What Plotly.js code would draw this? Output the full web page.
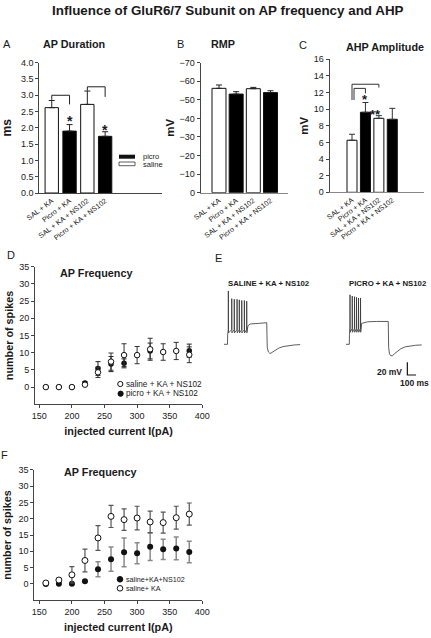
<!DOCTYPE html>
<html>
<head>
<meta charset="utf-8">
<script src="https://cdn.plot.ly/plotly-3.0.1.min.js"></script>
<style>html,body{margin:0;padding:0;background:#fff;}#chart{width:431px;height:638px;}</style>
</head>
<body>
<div id="chart"></div>
<script>
// ---------- DATA ----------
const categories = ["SAL + KA", "Picro + KA", "SAL + KA + NS102", "Picro + KA + NS102"];
const barColors = ["white", "black", "white", "black"];

const apDuration = [2.62, 1.90, 2.72, 1.74];          // ms
const apDurationErr = [0.22, 0.20, 0.41, 0.14];

const rmp = [-56.2, -53.1, -56.0, -53.9];             // mV
const rmpErr = [1.8, 1.3, 0.7, 1.0];

const ahpAmplitude = [6.26, 9.63, 8.90, 8.78];        // mV
const ahpAmplitudeErr = [0.72, 1.17, 0.32, 1.32];

const current = [160, 180, 200, 220, 240, 260, 280, 300, 320, 340, 360, 380]; // pA

// Panel D
const dSaline = [0, 0, 0, 0.7, 4.3, 7.4, 9.3, 9.3, 11.0, 10.2, 10.5, 9.4];
const dSalineErr = [0, 0, 0, 0.3, 1.5, 2.5, 3.3, 2.5, 3.2, 2.4, 2.5, 2.3];
const dPicro = [0, 0, 0, 1.2, 5.4, 6.7, 6.9, null, 10.5, null, null, 10.6];
const dPicroErr = [0, 0, 0, 0.4, 2.0, 2.2, 1.3, 0, 2.3, 0, 0, 1.9];

// Panel F
const fSalineKA = [0.3, 1.2, 2.8, 7.2, 14.1, 20.7, 19.7, 20.2, 19.0, 18.8, 20.3, 21.4];
const fSalineKAErr = [0.3, 0.5, 2.5, 3.5, 3.8, 3.4, 3.3, 3.6, 3.3, 3.2, 3.5, 3.4];
const fSalineKANS = [0, 0.1, 0.1, 0.8, 4.5, 7.6, 9.7, 9.4, 11.4, 10.6, 10.9, 9.8];
const fSalineKANSErr = [0.2, 0.2, 0.2, 0.3, 2.3, 3.7, 4.4, 3.2, 4.2, 3.1, 3.5, 3.3];

// Panel E example traces (time ms, membrane potential mV)
const salineTime = [0,40,42,49,50,52,88,89,91,117,118,120,149,150,152,175,176,178,203,204,206,233,234,236,260,261,263,275,300,400,491,497,510,525,540,560,590,630,680,740,810,875];
const salineVm   = [-65,-65,-50,-42,19,-47,-42,7,-47,-42,6,-47,-42,6,-47,-42,5,-47,-42,4,-47,-42,4,-47,-42,3,-47,-36,-33,-32,-31,-70,-77,-79,-79,-77,-74,-71,-68.5,-67,-66,-65.5];
const picroTime = [0,38,40,45,46,48,71,72,74,97,98,100,120,121,123,143,144,146,166,167,169,180,250,350,486,490,500,515,535,555,590,630,680,740,800,870];
const picroVm   = [-65,-65,-50,-40,13,-46,-40,11,-46,-40,10,-46,-40,9,-46,-40,8,-46,-40,8,-46,-32,-29.5,-29,-29,-70,-80,-83,-83,-80,-76,-72,-69,-67.5,-66.5,-66];
const scaleBarTime = [705, 705, 805];   // 100 ms
const scaleBarVm = [-93.3, -113.3, -113.3]; // 20 mV

// ---------- LAYOUT HELPERS ----------
const W = 431, H = 638;
const fx = p => p / W;
const fy = p => 1 - p / H;
const FONT = "Liberation Sans, Arial, Helvetica, sans-serif";
const TXT = "#1a1a1a";
const AX = "#444";
const idx = categories.map((c, i) => i);

function barAxisX(dom, range, anchor, lineColor) {
  return {domain: [fx(dom[0]), fx(dom[1])], range: range, anchor: anchor,
    showline: true, linecolor: lineColor || AX, linewidth: 1, ticks: "",
    tickmode: "array", tickvals: idx, ticktext: categories, tickangle: -37,
    tickfont: {size: 7.2, color: TXT}, showgrid: false, zeroline: false, fixedrange: true};
}
function numAxisY(dom, range, anchor, extra) {
  return Object.assign({domain: [fy(dom[1]), fy(dom[0])], range: range, anchor: anchor,
    showline: true, linecolor: AX, linewidth: 1, ticks: "outside", ticklen: 3, tickcolor: AX,
    tickfont: {size: 9, color: TXT}, showgrid: false, zeroline: false}, extra);
}

const traces = [];
// Panel A
traces.push({type: "bar", x: idx, y: apDuration, width: 0.75, xaxis: "x", yaxis: "y",
  marker: {color: barColors, line: {color: "#111", width: 1}},
  error_y: {type: "data", symmetric: false, array: apDurationErr, arrayminus: [0,0,0,0], color: "#222", thickness: 1, width: 3}});
// Panel B
traces.push({type: "bar", x: idx, y: rmp, width: 0.815, xaxis: "x2", yaxis: "y2",
  marker: {color: barColors, line: {color: "#111", width: 1}},
  error_y: {type: "data", symmetric: false, array: [0,0,0,0], arrayminus: rmpErr, color: "#222", thickness: 1, width: 3}});
// Panel C
traces.push({type: "bar", x: idx, y: ahpAmplitude, width: 0.745, xaxis: "x3", yaxis: "y3",
  marker: {color: barColors, line: {color: "#111", width: 1}},
  error_y: {type: "data", symmetric: false, array: ahpAmplitudeErr, arrayminus: [0,0,0,0], color: "#333", thickness: 1, width: 3}});
// Panel D
traces.push({type: "scatter", mode: "markers", x: current, y: dPicro, xaxis: "x4", yaxis: "y4", name: "picro + KA + NS102",
  marker: {symbol: "circle", size: 5.5, color: "#111"},
  error_y: {type: "data", array: dPicroErr, color: "#222", thickness: 1, width: 2.5}});
traces.push({type: "scatter", mode: "markers", x: current, y: dSaline, xaxis: "x4", yaxis: "y4", name: "saline + KA + NS102",
  marker: {symbol: "circle", size: 5.5, color: "white", line: {color: "#111", width: 1}},
  error_y: {type: "data", array: dSalineErr, color: "#333", thickness: 1, width: 2.5}});
// Panel E
traces.push({type: "scatter", mode: "lines", x: salineTime, y: salineVm, xaxis: "x5", yaxis: "y5",
  line: {color: "#333", width: 0.8}});
traces.push({type: "scatter", mode: "lines", x: picroTime, y: picroVm, xaxis: "x6", yaxis: "y6",
  line: {color: "#333", width: 0.8}});
traces.push({type: "scatter", mode: "lines", x: scaleBarTime, y: scaleBarVm, xaxis: "x6", yaxis: "y6",
  line: {color: "#111", width: 1.2}});
// Panel F
traces.push({type: "scatter", mode: "markers", x: current, y: fSalineKANS, xaxis: "x7", yaxis: "y7", name: "saline+KA+NS102",
  marker: {symbol: "circle", size: 6, color: "#111"},
  error_y: {type: "data", array: fSalineKANSErr, color: "#8a8a8a", thickness: 1.5, width: 2.5}});
traces.push({type: "scatter", mode: "markers", x: current, y: fSalineKA, xaxis: "x7", yaxis: "y7", name: "saline+ KA",
  marker: {symbol: "circle", size: 6, color: "white", line: {color: "#111", width: 1}},
  error_y: {type: "data", array: fSalineKAErr, color: "#555", thickness: 1.2, width: 2.5}});

function ann(text, x, y, size, opts) {
  return Object.assign({text: text, xref: "paper", yref: "paper", x: fx(x), y: fy(y),
    xanchor: "center", yanchor: "middle", showarrow: false, font: {size: size, color: TXT}}, opts || {});
}
function star(text, xr, yr, x, y, size) {
  return {text: "<b>" + text + "</b>", xref: xr, yref: yr, x: x, y: y, xanchor: "center", yanchor: "middle",
    showarrow: false, yshift: -3, borderpad: 0, font: {size: size || 14, color: TXT}};
}

const annotations = [
  ann("A", 7, 44, 11), ann("<b>AP Duration</b>", 74, 44, 10.8),
  ann("B", 180, 44, 11), ann("<b>RMP</b>", 223, 44, 10.8),
  ann("C", 303, 45, 11), ann("<b>AHP Amplitude</b>", 385, 47, 10.8),
  ann("D", 10.7, 255, 11), ann("<b>AP Frequency</b>", 96, 273.3, 10.8),
  ann("E", 219, 258, 11),
  ann("<b>SALINE + KA + NS102</b>", 268.7, 283.3, 7.8),
  ann("<b>PICRO + KA + NS102</b>", 388, 283.3, 7.8),
  ann("<b>20 mV</b>", 404.3, 371.7, 8.5, {xanchor: "right"}),
  ann("<b>100 ms</b>", 414, 382.7, 8.5),
  ann("F", 4, 455, 11), ann("<b>AP Frequency</b>", 100, 472.3, 10.8),
  ann("picro", 140.5, 156.7, 7.5, {xanchor: "left", font: {size: 7.5, color: "#1a1a1a"}}),
  ann("saline", 140.5, 164, 7.5, {xanchor: "left"}),
  ann("saline + KA + NS102", 124, 384, 8.2, {xanchor: "left"}),
  ann("picro + KA + NS102", 124, 393.7, 8.2, {xanchor: "left"}),
  ann("saline+KA+NS102", 124, 579.3, 7.2, {xanchor: "left"}),
  ann("saline+ KA", 124, 588.3, 7.2, {xanchor: "left"}),
  star("*", "x", "y", 1, 2.3), star("*", "x", "y", 3, 2.02),
  star("*", "x3", "y3", 1, 11.5, 13), star("**", "x3", "y3", 1.75, 9.7, 13)
];

function circ(cx, cy, r, fill) {
  return {type: "circle", xref: "paper", yref: "paper", x0: fx(cx - r), x1: fx(cx + r), y0: fy(cy + r), y1: fy(cy - r),
    fillcolor: fill, line: {color: "#111", width: 1}};
}
const shapes = [
  {type: "path", xref: "x", yref: "y", path: "M0,2.86 L0,3.0 L1,3.0 L1,2.72", line: {color: "#222", width: 1}},
  {type: "path", xref: "x", yref: "y", path: "M2,3.14 L2,3.26 L3,3.26 L3,2.95", line: {color: "#222", width: 1}},
  {type: "path", xref: "x3", yref: "y3", path: "M0,11.1 L0,13.0 L2,13.0 L2,12.6", line: {color: "#333", width: 1}},
  {type: "path", xref: "x3", yref: "y3", path: "M0.15,11.1 L0.15,12.5 L1,12.5 L1,11.9", line: {color: "#333", width: 1}},
  {type: "rect", xref: "paper", yref: "paper", x0: fx(119), x1: fx(135), y0: fy(158.7), y1: fy(154.7), fillcolor: "#111", line: {width: 0}},
  {type: "rect", xref: "paper", yref: "paper", x0: fx(119), x1: fx(135), y0: fy(165.7), y1: fy(162), fillcolor: "white", line: {color: "#333", width: 0.8}},
  circ(120.3, 384, 2.6, "white"), circ(120.6, 393.7, 2.6, "#111"),
  circ(120, 579.3, 2.8, "#111"), circ(120, 588.3, 2.8, "white")
];

const layout = {
  width: W, height: H, autosize: false,
  margin: {l: 0, r: 0, t: 0, b: 0, pad: 0},
  paper_bgcolor: "white", plot_bgcolor: "white",
  font: {family: FONT, color: TXT, size: 9},
  showlegend: false,
  title: {text: "<b>Influence of GluR6/7 Subunit on AP frequency and AHP</b>", x: fx(227.8), xanchor: "center",
    y: fy(10.5), yanchor: "middle", font: {size: 13.4, color: TXT}},
  xaxis: barAxisX([39.3, 161.7], [-0.70, 6.18], "y"),
  yaxis: numAxisY([62.7, 193], [0, 4], "x", {dtick: 0.5, tick0: 0, tickformat: ".1f",
    title: {text: "<b>ms</b>", font: {size: 12, color: TXT}, standoff: 9}}),
  xaxis2: barAxisX([200.7, 288], [-1.066, 4.02], "y2", "#888"),
  yaxis2: numAxisY([62.7, 192.7], [0, -70], "x2", {dtick: 10, tick0: 0,
    title: {text: "<b>mV</b>", font: {size: 11.5, color: TXT}, standoff: 2}}),
  xaxis3: barAxisX([329.5, 424], [-1.675, 5.36], "y3", "#888"),
  yaxis3: numAxisY([59.3, 192.3], [0, 16], "x3", {dtick: 2, tick0: 0,
    title: {text: "<b>mV</b>", font: {size: 11.5, color: TXT}, standoff: 2}}),
  xaxis4: {domain: [fx(35), fx(202.3)], range: [143.4, 400], anchor: "y4", showline: true, linecolor: AX,
    ticks: "outside", ticklen: 3, tickcolor: AX, tickmode: "linear", tick0: 150, dtick: 50,
    tickfont: {size: 9, color: TXT}, showgrid: false, zeroline: false,
    title: {text: "<b>injected current I(pA)</b>", font: {size: 10.8, color: TXT}, standoff: 7}},
  yaxis4: numAxisY([266.7, 404.3], [-5, 35], "x4", {tickmode: "array", tickvals: [0,5,10,15,20,25,30,35],
    title: {text: "<b>number of spikes</b>", font: {size: 10.8, color: TXT}, standoff: 3}}),
  xaxis5: {domain: [fx(224), fx(310)], range: [0, 988.5], anchor: "y5", visible: false},
  yaxis5: {domain: [fy(380), fy(288)], range: [-121.2, 23.7], anchor: "x5", visible: false},
  xaxis6: {domain: [fx(346), fx(430)], range: [0, 965.5], anchor: "y6", visible: false},
  yaxis6: {domain: [fy(380), fy(288)], range: [-121.2, 23.7], anchor: "x6", visible: false},
  xaxis7: {domain: [fx(34.3), fx(202.3)], range: [142.3, 400], anchor: "y7", showline: true, linecolor: AX,
    ticks: "outside", ticklen: 3, tickcolor: AX, tickmode: "linear", tick0: 150, dtick: 50,
    tickfont: {size: 9, color: TXT}, showgrid: false, zeroline: false,
    title: {text: "<b>injected current I(pA)</b>", font: {size: 10.8, color: TXT}, standoff: 7}},
  yaxis7: numAxisY([469.7, 600.3], [-5, 35], "x7", {tickmode: "array", tickvals: [0,5,10,15,20,25,30,35],
    title: {text: "<b>number of spikes</b>", font: {size: 10.8, color: TXT}, standoff: 4}}),
  annotations: annotations,
  shapes: shapes
};

Plotly.newPlot("chart", traces, layout, {staticPlot: true, displayModeBar: false});
</script>
</body>
</html>
